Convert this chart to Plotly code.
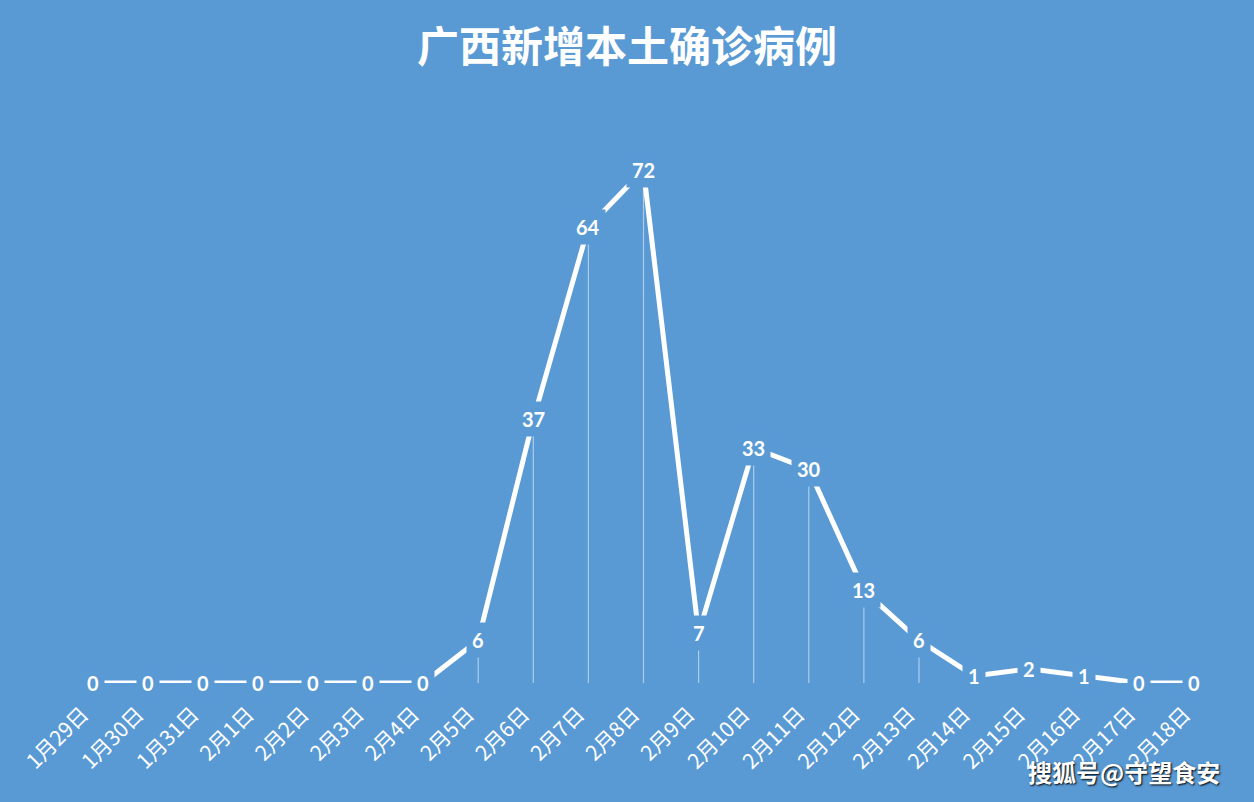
import plotly.graph_objects as go

dias = ['1月29日', '1月30日', '1月31日', '2月1日', '2月2日', '2月3日', '2月4日',
        '2月5日', '2月6日', '2月7日', '2月8日', '2月9日', '2月10日', '2月11日',
        '2月12日', '2月13日', '2月14日', '2月15日', '2月16日', '2月17日', '2月18日']
casos = [0, 0, 0, 0, 0, 0, 0, 6, 37, 64, 72, 7, 33, 30, 13, 6, 1, 2, 1, 0, 0]

azul = 'rgb(89,154,213)'
cjk = 'Noto Sans CJK SC'

fig = go.Figure()
fig.add_trace(go.Scatter(
    x=dias, y=casos, mode='lines',
    line=dict(color='white', width=5),
    error_y=dict(type='data', symmetric=False, array=[0] * len(casos), arrayminus=casos,
                 color='rgba(255,255,255,0.5)', thickness=1.2, width=0),
    hoverinfo='skip', showlegend=False))

# rótulos com fundo azul (cobrem a linha como no Excel)
for d, c in zip(dias, casos):
    fig.add_annotation(x=d, y=c, text='<b>%d</b>' % c, showarrow=False,
                       font=dict(family='Lato', size=20, color='white'),
                       bgcolor=azul, borderpad=5)

fig.add_annotation(xref='paper', yref='paper', x=1.0, y=-0.156, xanchor='right', yanchor='middle',
                   text='<b>搜狐号@守望食安</b>', showarrow=False,
                   font=dict(family=cjk, size=24, color='white', shadow='1px 1px 2px black'))

fig.update_layout(
    width=1254, height=802,
    paper_bgcolor=azul, plot_bgcolor=azul,
    margin=dict(l=65, r=32, t=113, b=119),
    title=dict(text='<b>广西新增本土确诊病例</b>', x=0.5, xanchor='center', y=0.941, yanchor='middle',
               font=dict(family=cjk, size=42, color='white')),
    font=dict(family=cjk, color='white'),
)
fig.update_xaxes(type='category', range=[-0.5, 20.5], showgrid=False, showline=False, zeroline=False,
                 tickangle=-45, tickfont=dict(family=cjk, size=21, color='white'), ticks='',
                 ticklabelstandoff=14, ticklabelshift=-10)
fig.update_yaxes(range=[0, 80], visible=False, showgrid=False, zeroline=False)

fig.write_html('out.html', config={'displayModeBar': False},
               post_script="document.body.style.margin='0';document.body.style.background='%s';" % azul)
